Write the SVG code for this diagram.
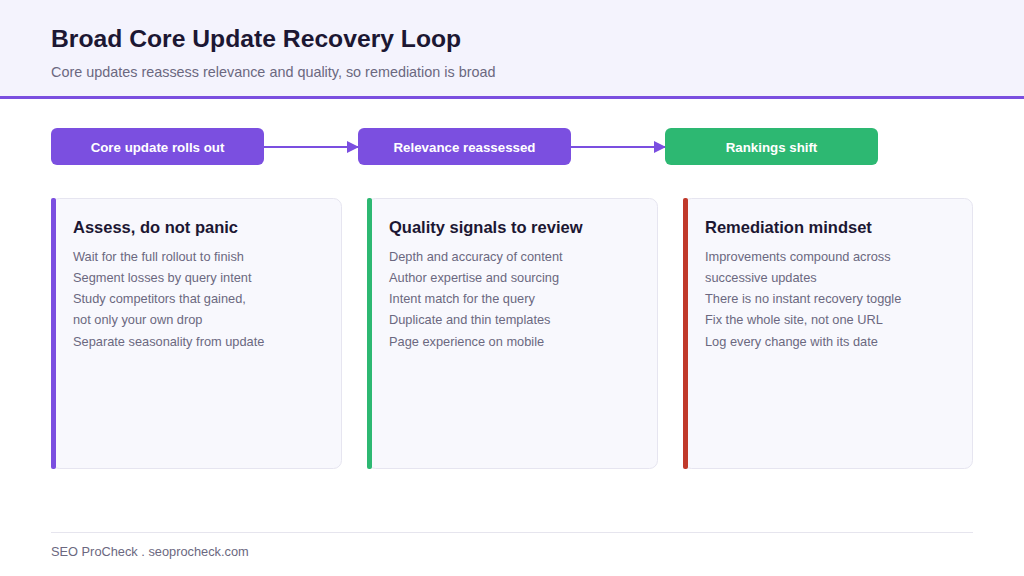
<svg xmlns="http://www.w3.org/2000/svg" width="1024" height="576" viewBox="0 0 1024 576">
<style>
text{font-family:"Liberation Sans",Arial,sans-serif}
.t{font-size:24.7px;font-weight:bold;fill:#1c1733}
.sub{font-size:14.4px;fill:#6b6880}
.pl{font-size:13.3px;font-weight:bold;fill:#fff}
.card{fill:#f8f8fd;stroke:#e6e5f0;stroke-width:1}
.h{font-size:16.5px;font-weight:bold;fill:#1c1733}
.b{font-size:12.8px;fill:#6b6880}
.e{stroke:#7b4fe0;stroke-width:2;fill:none}
</style>
<defs><marker id="a" markerWidth="12" markerHeight="12" refX="11" refY="6" orient="auto" markerUnits="userSpaceOnUse"><path d="M0,0L12,6L0,12z" fill="#7b4fe0"/></marker></defs>
<rect width="1024" height="576" fill="#fff"/>
<rect width="1024" height="97" fill="#f4f3fd"/>
<rect y="96" width="1024" height="3" fill="#7b4fe0"/>
<text class="t" x="51" y="47">Broad Core Update Recovery Loop</text>
<text class="sub" x="51" y="77">Core updates reassess relevance and quality, so remediation is broad</text>
<g id="connectors">
<line class="e" x1="264" y1="147" x2="358" y2="147" marker-end="url(#a)"/>
<line class="e" x1="571" y1="147" x2="665" y2="147" marker-end="url(#a)"/>
</g>
<g id="n1"><rect x="51" y="128" width="213" height="37" rx="6" fill="#7b4fe0"/><text class="pl" x="157.5" y="151.5" text-anchor="middle">Core update rolls out</text></g>
<g id="n2"><rect x="358" y="128" width="213" height="37" rx="6" fill="#7b4fe0"/><text class="pl" x="464.5" y="151.5" text-anchor="middle">Relevance reassessed</text></g>
<g id="n3"><rect x="665" y="128" width="213" height="37" rx="6" fill="#2db872"/><text class="pl" x="771.5" y="151.5" text-anchor="middle">Rankings shift</text></g>
<g id="c1"><rect class="card" x="51.5" y="198.5" width="290" height="270" rx="8"/><rect x="51" y="198" width="5" height="271" rx="2" fill="#7b4fe0"/>
<text class="h" x="73" y="233">Assess, do not panic</text>
<text class="b" x="73" y="261">Wait for the full rollout to finish</text>
<text class="b" x="73" y="282">Segment losses by query intent</text>
<text class="b" x="73" y="303">Study competitors that gained,</text>
<text class="b" x="73" y="324">not only your own drop</text>
<text class="b" x="73" y="346">Separate seasonality from update</text></g>
<g id="c2"><rect class="card" x="367.5" y="198.5" width="290" height="270" rx="8"/><rect x="367" y="198" width="5" height="271" rx="2" fill="#2db872"/>
<text class="h" x="389" y="233">Quality signals to review</text>
<text class="b" x="389" y="261">Depth and accuracy of content</text>
<text class="b" x="389" y="282">Author expertise and sourcing</text>
<text class="b" x="389" y="303">Intent match for the query</text>
<text class="b" x="389" y="324">Duplicate and thin templates</text>
<text class="b" x="389" y="346">Page experience on mobile</text></g>
<g id="c3"><rect class="card" x="683.5" y="198.5" width="289" height="270" rx="8"/><rect x="683" y="198" width="5" height="271" rx="2" fill="#c0392b"/>
<text class="h" x="705" y="233">Remediation mindset</text>
<text class="b" x="705" y="261">Improvements compound across</text>
<text class="b" x="705" y="282">successive updates</text>
<text class="b" x="705" y="303">There is no instant recovery toggle</text>
<text class="b" x="705" y="324">Fix the whole site, not one URL</text>
<text class="b" x="705" y="346">Log every change with its date</text></g>
<rect x="51" y="532" width="922" height="1" fill="#e6e5ee"/>
<text class="b" x="51" y="556">SEO ProCheck . seoprocheck.com</text>
</svg>
